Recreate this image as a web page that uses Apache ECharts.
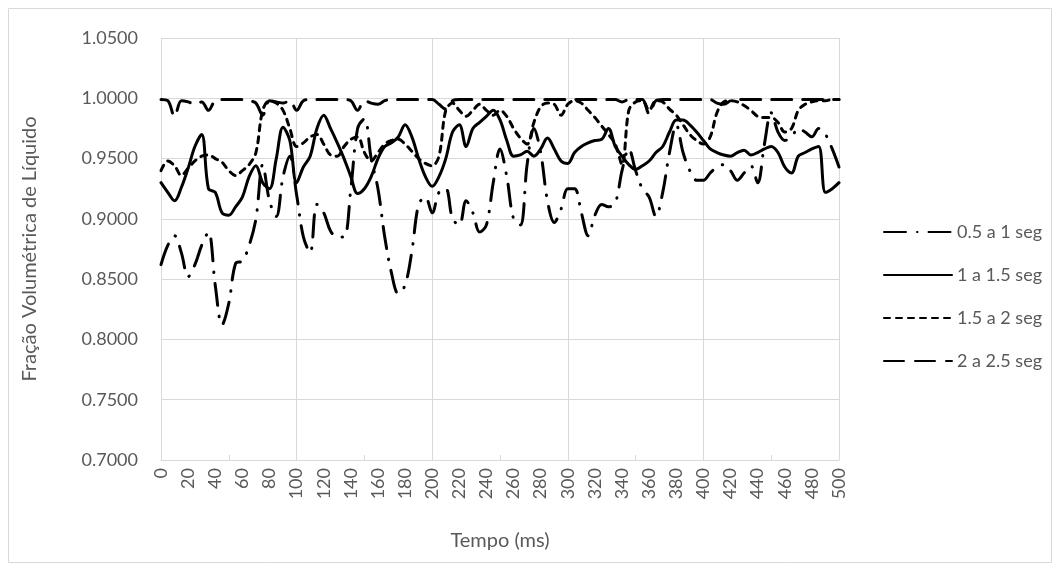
<!DOCTYPE html>
<html>
<head>
<meta charset="utf-8">
<script src="https://cdn.jsdelivr.net/npm/echarts@6/dist/echarts.min.js"></script>
<style>
html,body{margin:0;padding:0;background:#fff;}
#chart{width:1060px;height:571px;}
</style>
</head>
<body>
<div id="chart"></div>
<script>
// time in ms, step 5
const tempo = [];
for (let t = 0; t <= 500; t += 5) tempo.push(t);

const seriesNames = ['0.5 a 1 seg', '1 a 1.5 seg', '1.5 a 2 seg', '2 a 2.5 seg'];

const s05a1 = [
0.862,0.878,0.886,0.872,0.852,0.862,0.878,0.889,0.845,0.812,
0.830,0.863,0.865,0.878,0.900,0.945,0.915,0.902,0.935,0.952,
0.920,0.885,0.872,0.912,0.905,0.890,0.885,0.885,0.925,0.975,
0.983,0.950,0.925,0.885,0.855,0.838,0.845,0.873,0.912,0.918,
0.905,0.922,0.925,0.900,0.895,0.915,0.905,0.889,0.895,0.930,
0.958,0.935,0.900,0.895,0.945,0.975,0.955,0.915,0.897,0.908,
0.925,0.925,0.905,0.886,0.903,0.912,0.910,0.913,0.940,0.958,
0.940,0.925,0.918,0.902,0.922,0.955,0.978,0.955,0.940,0.932,
0.932,0.938,0.943,0.945,0.940,0.932,0.938,0.944,0.930,0.962,
0.988,0.972,0.965,0.968,0.975,0.972,0.968,0.975,0.970,0.958,
0.943];

const s1a15 = [
0.930,0.922,0.915,0.926,0.942,0.960,0.970,0.925,0.922,0.905,
0.903,0.910,0.918,0.935,0.944,0.930,0.925,0.950,0.976,0.965,
0.930,0.943,0.952,0.975,0.986,0.975,0.963,0.950,0.935,0.921,
0.925,0.935,0.950,0.960,0.963,0.968,0.978,0.968,0.950,0.935,
0.927,0.935,0.950,0.972,0.978,0.960,0.975,0.980,0.985,0.990,
0.982,0.965,0.952,0.953,0.956,0.952,0.958,0.967,0.958,0.948,
0.946,0.955,0.960,0.963,0.965,0.966,0.975,0.960,0.952,0.945,
0.941,0.944,0.948,0.955,0.960,0.972,0.982,0.982,0.978,0.972,
0.965,0.958,0.955,0.953,0.952,0.955,0.957,0.953,0.955,0.958,
0.960,0.955,0.943,0.938,0.952,0.955,0.958,0.960,0.922,0.925,
0.930];

const s15a2 = [
0.940,0.948,0.944,0.936,0.942,0.948,0.952,0.953,0.950,0.947,
0.940,0.936,0.940,0.945,0.955,0.990,0.998,0.996,0.990,0.975,
0.960,0.963,0.968,0.970,0.962,0.953,0.952,0.960,0.966,0.968,
0.955,0.948,0.955,0.962,0.965,0.966,0.962,0.956,0.950,0.946,
0.944,0.952,0.990,0.996,0.990,0.985,0.990,0.995,0.990,0.986,
0.990,0.985,0.975,0.967,0.962,0.980,0.993,0.996,0.995,0.986,
0.995,0.998,0.996,0.990,0.984,0.977,0.970,0.962,0.945,0.990,
0.997,0.998,0.990,0.998,0.997,0.991,0.986,0.978,0.970,0.965,
0.962,0.968,0.988,0.997,0.998,0.997,0.994,0.990,0.985,0.984,
0.984,0.980,0.972,0.975,0.990,0.995,0.997,0.998,0.998,0.999,
0.999];

const s2a25 = [
0.999,0.998,0.985,0.998,0.997,0.995,0.997,0.990,0.998,0.999,
0.999,0.999,0.999,0.998,0.996,0.986,0.998,0.997,0.996,0.998,
0.990,0.998,0.999,0.999,0.999,0.999,0.999,0.999,0.998,0.990,
0.998,0.996,0.995,0.998,0.999,0.999,0.999,0.999,0.999,0.999,
0.999,0.995,0.991,0.998,0.999,0.999,0.999,0.999,0.999,0.999,
0.999,0.999,0.999,0.999,0.999,0.999,0.999,0.999,0.999,0.999,
0.999,0.999,0.999,0.999,0.999,0.999,0.999,0.999,0.997,0.999,
0.999,0.999,0.987,0.998,0.999,0.999,0.999,0.999,0.999,0.999,
0.999,0.999,0.996,0.995,0.998,0.999,0.999,0.999,0.999,0.999,
0.999,0.999,0.999,0.999,0.999,0.999,0.999,0.999,0.999,0.999,
0.999];

const yTicks = [0.70, 0.75, 0.80, 0.85, 0.90, 0.95, 1.00, 1.05];

const FONT = 'Lato, "Open Sans", sans-serif';
const GRAY = '#595959';
const GRID = '#d9d9d9';

function pairs(vals) { return tempo.map((t, i) => [t, vals[i]]); }

const dashes = [
  [22, 11, 0.5, 11],
  null,
  [6, 6],
  [20, 11]
];
const allVals = [s05a1, s1a15, s15a2, s2a25];

const series = seriesNames.map((name, k) => ({
  name: name,
  type: 'line',
  xAxisIndex: 0,
  yAxisIndex: 0,
  data: pairs(allVals[k]),
  showSymbol: false,
  symbol: 'none',
  smooth: 0.35,
  lineStyle: {
    color: '#000',
    width: 3,
    type: dashes[k] ? dashes[k] : 'solid',
    cap: 'round',
    join: 'round'
  },
  itemStyle: { color: '#000' },
  emphasis: { disabled: true },
  z: 10 - k
}));

const chart = echarts.init(document.getElementById('chart'), null, { renderer: 'canvas' });
chart.setOption({
  animation: false,
  backgroundColor: '#fff',
  textStyle: { fontFamily: FONT },
  graphic: [{
    type: 'rect',
    shape: { x: 8.5, y: 8.5, width: 1043, height: 554 },
    style: { fill: 'none', stroke: GRID, lineWidth: 1 },
    silent: true
  }],
  grid: { left: 161, top: 38, width: 678, height: 422, containLabel: false },
  legend: {
    orient: 'vertical',
    left: 878,
    top: 218,
    itemWidth: 68,
    itemHeight: 14,
    itemGap: 25,
    data: seriesNames,
    itemStyle: { opacity: 0 },
    textStyle: { color: GRAY, fontSize: 18, fontFamily: FONT },
    selectedMode: false
  },
  xAxis: [{
    type: 'value',
    min: 0, max: 500, interval: 20,
    name: 'Tempo (ms)',
    nameLocation: 'middle',
    nameGap: 71,
    nameTextStyle: { color: GRAY, fontSize: 20, fontFamily: FONT },
    axisLine: { show: true, lineStyle: { color: GRID, width: 1 } },
    axisTick: { show: false },
    splitLine: { show: false },
    axisLabel: { rotate: 90, color: GRAY, fontSize: 18, fontFamily: FONT, margin: 8 }
  }, {
    type: 'value',
    min: 0, max: 500, interval: 100,
    position: 'bottom',
    axisLine: { show: false },
    axisTick: { show: false },
    axisLabel: { show: false },
    splitLine: { show: true, lineStyle: { color: GRID, width: 1 } }
  }, {
    type: 'value',
    min: 0, max: 500, interval: 50,
    position: 'bottom',
    axisLine: { show: false },
    axisTick: { show: true, inside: true, length: 5, lineStyle: { color: GRID } },
    axisLabel: { show: false },
    splitLine: { show: false }
  }],
  yAxis: {
    type: 'value',
    min: yTicks[0], max: yTicks[yTicks.length - 1], interval: 0.05,
    name: 'Fração Volumétrica de Líquido',
    nameLocation: 'middle',
    nameGap: 121,
    nameTextStyle: { color: GRAY, fontSize: 20, fontFamily: FONT },
    axisLine: { show: false },
    axisTick: { show: false },
    splitLine: { show: true, lineStyle: { color: GRID, width: 1 } },
    axisLabel: { color: GRAY, fontSize: 18, fontFamily: FONT, margin: 23,
      formatter: v => Number(v).toFixed(4) }
  },
  series: series
});
</script>
</body>
</html>
